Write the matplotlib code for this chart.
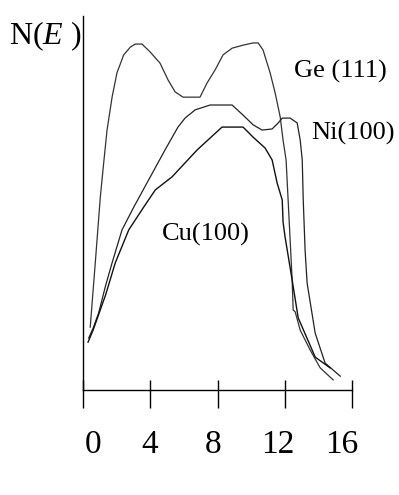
import matplotlib
matplotlib.use("Agg")
import matplotlib.pyplot as plt
from matplotlib.ticker import FixedLocator

plt.rcParams['font.family'] = ['Liberation Serif', 'DejaVu Serif']
plt.rcParams['mathtext.fontset'] = 'custom'
plt.rcParams['mathtext.rm'] = 'Liberation Serif'
plt.rcParams['mathtext.it'] = 'Liberation Serif:italic'

# energy (eV) and density of states (arb. units)
ge_e = [0.43, 0.73, 1.03, 1.23, 1.43, 1.73, 2.02, 2.42, 2.82, 3.11, 3.51, 3.99,
        4.58, 5.06, 5.48, 5.95, 6.96, 7.38, 7.86, 8.33, 8.87, 9.52, 10.12, 10.42,
        10.71, 11.13, 11.43, 11.73, 11.9, 12.08, 12.26, 12.44, 12.5, 12.62, 12.92,
        13.51, 14.11, 14.88]
ge_n = [16.8, 34.0, 51.6, 60.7, 69.5, 78.3, 84.8, 89.6, 91.7, 92.5, 92.5, 90.4,
        87.4, 82.9, 79.7, 78.3, 78.3, 82.1, 85.6, 89.6, 91.4, 92.2, 92.8, 92.8,
        90.9, 84.8, 79.4, 73.0, 66.8, 61.5, 45.5, 29.4, 21.4, 20.9, 16.0,
        10.7, 5.9, 2.7]

ni_e = [0.34, 0.6, 0.93, 1.35, 1.73, 2.32, 3.02, 4.88, 5.65, 6.07, 6.67, 7.56, 8.87,
        9.52, 10.12, 10.65, 11.25, 11.61, 11.85, 12.32, 12.74, 12.92, 13.04, 13.1,
        13.21, 13.33, 13.81, 14.4, 15.3]
ni_n = [13.9, 16.5, 20.6, 28.0, 34.0, 42.8, 48.9, 64.2, 70.3, 72.7, 74.9, 76.2, 76.2,
        73.5, 70.9, 69.5, 69.8, 71.4, 72.7, 72.7, 71.4, 66.8, 61.5, 50.8,
        37.4, 28.6, 15.2, 7.2, 3.7]

cu_e = [0.3, 0.6, 0.9, 1.35, 1.92, 2.72, 3.61, 4.3, 5.3, 6.79, 8.27, 9.52,
        10.12, 10.83, 11.25, 11.55, 11.85, 11.9, 12.02, 12.44, 12.8, 13.81, 14.7]
cu_n = [12.8, 16.0, 19.8, 25.5, 34.0, 42.8, 48.9, 53.5, 57.0, 64.2, 70.3, 70.3,
        67.6, 64.7, 61.5, 55.3, 50.8, 44.9, 40.9, 29.4, 19.3, 8.8, 5.9]

xticks = [0, 4, 8, 12, 16]
xticklabels = ['0', '4', '8', '12', '16']
xlabel_pos = [0.6, 3.95, 7.75, 11.6, 15.4]

fig = plt.figure(figsize=(3.99, 4.95), dpi=100)
ax = fig.add_axes([83 / 399, 1 - 390 / 495, (352 - 83) / 399, (390 - 16) / 495])

ax.plot(ge_e, ge_n, color='#333333', lw=0.9)
ax.plot(ni_e, ni_n, color='#222222', lw=0.9)
ax.plot(cu_e, cu_n, color='#111111', lw=1.0)

ax.set_xlim(0, 16)
ax.set_ylim(0, 100)
ax.spines['top'].set_visible(False)
ax.spines['right'].set_visible(False)
ax.spines['left'].set_linewidth(1.0)
ax.spines['bottom'].set_linewidth(1.0)
ax.set_yticks([])

# ticks cross the axis: short part inside, longer part outside
ax.xaxis.remove_overlapping_locs = False
ax.set_xticks(xticks)
ax.xaxis.set_minor_locator(FixedLocator(xticks))
ax.tick_params(axis='x', which='major', direction='in', length=7, width=1, labelbottom=False)
ax.tick_params(axis='x', which='minor', direction='out', length=13, width=1)

for p, lab in zip(xlabel_pos, xticklabels):
    ax.text(p, -14.7, lab, ha='center', va='center', fontsize=24)

ax.text(15.3, 85.3, 'Ge (111)', fontsize=19, ha='center', va='center', clip_on=False)
ax.text(16.07, 68.7, 'Ni(100)', fontsize=19, ha='center', va='center', clip_on=False)
ax.text(7.3, 41.6, 'Cu(100)', fontsize=19, ha='center', va='center')

fig.text(45 / 399, 1 - 36 / 495, r'N($E$ )', fontsize=23, ha='center', va='center')

fig.savefig('out.png', dpi=100)
